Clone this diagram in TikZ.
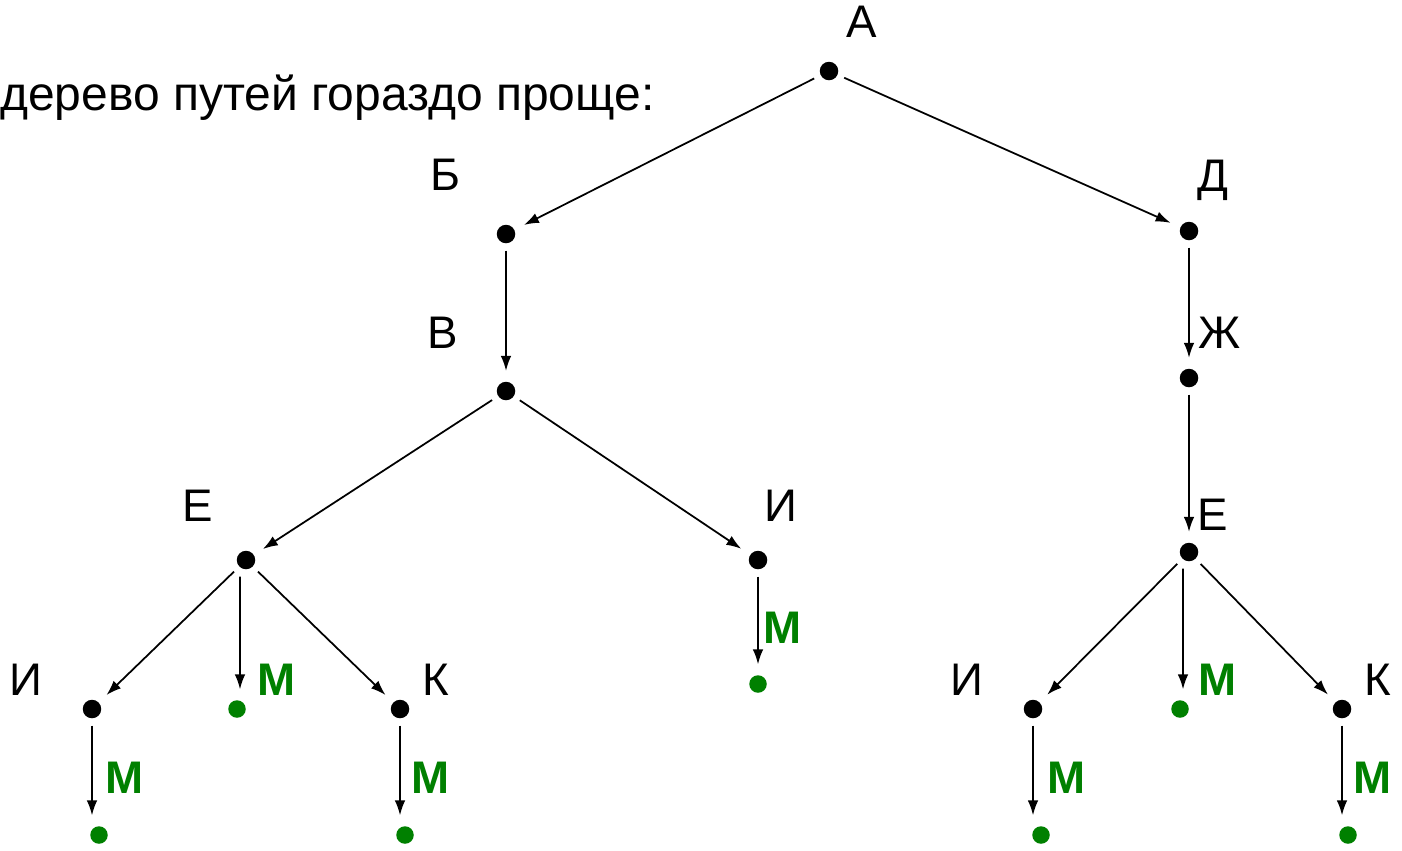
\documentclass[tikz,border=0pt]{standalone}
\usepackage{fontspec}
\setmainfont{Liberation Sans}
\usetikzlibrary{arrows.meta,positioning}
\usepackage{xcolor}
\definecolor{pathgreen}{RGB}{0,128,0}

\begin{document}
\begin{tikzpicture}[x=0.02cm,y=-0.02cm]
\tikzstyle{vertex} = [
	shape=circle,
	fill=black, %fill the space of the node
	minimum size=0.37cm, %minimum size of the nodes
	inner sep=0pt
];
\tikzstyle{goal} = [vertex, fill=pathgreen, minimum size=0.35cm];
\tikzstyle{letter} = [inner sep=0pt, font=\fontsize{26}{30}\selectfont];
\tikzstyle{goalletter} = [letter, text=pathgreen, font=\fontsize{26}{30}\selectfont\bfseries];
\tikzstyle{edge} = [-{Latex[length=8.5pt,width=6pt]}, line width=1pt, shorten <=4pt, shorten >=6pt];

\useasboundingbox (0,0) rectangle (1402,850);

\node[letter,anchor=base west,font=\fontsize{27.3}{32}\selectfont](TITLE) at (0,110) {дерево путей гораздо проще:};

% vertices
\node[vertex](A) at (829,71) {};
\node[vertex](B) at (506,234) {};
\node[vertex](D) at (1189,231) {};
\node[vertex](V) at (506,391) {};
\node[vertex](ZH) at (1189,378) {};
\node[vertex](EL) at (246,560) {};
\node[vertex](IM) at (758,560) {};
\node[vertex](ER) at (1189,552) {};
\node[vertex](IL) at (92,709) {};
\node[goal](ML) at (237,709) {};
\node[vertex](KL) at (400,709) {};
\node[goal](MM) at (758,684) {};
\node[vertex](IR) at (1033,709) {};
\node[goal](MR) at (1180,709) {};
\node[vertex](KR) at (1342,709) {};
\node[goal](MIL) at (99,835) {};
\node[goal](MKL) at (405,835) {};
\node[goal](MIR) at (1041,835) {};
\node[goal](MKR) at (1348,835) {};

% letters
\node[letter](lA) at (862,22) {А};
\node[letter](lB) at (445,175) {Б};
\node[letter](lD) at (1213,180) {Д};
\node[letter](lV) at (443,333) {В};
\node[letter](lZH) at (1220,333) {Ж};
\node[letter](lEL) at (198,506) {Е};
\node[letter](lIM) at (781,506) {И};
\node[letter](lER) at (1213,515) {Е};
\node[letter](lIL) at (26,680) {И};
\node[goalletter](lML) at (277,680) {М};
\node[letter](lKL) at (436,680) {К};
\node[goalletter](lMM) at (783,628) {М};
\node[letter](lIR) at (967,680) {И};
\node[goalletter](lMR) at (1218,680) {М};
\node[letter](lKR) at (1378,680) {К};
\node[goalletter](lMIL) at (125,778) {М};
\node[goalletter](lMKL) at (431,778) {М};
\node[goalletter](lMIR) at (1067,778) {М};
\node[goalletter](lMKR) at (1373,778) {М};

% edges
\draw[edge] (A) to (B);
\draw[edge] (A) to (D);
\draw[edge] (B) to (V);
\draw[edge] (D) to (ZH);
\draw[edge] (ZH) to (ER);
\draw[edge] (V) to (EL);
\draw[edge] (V) to (IM);
\draw[edge] (IM) to (MM);
\draw[edge] (EL) to (IL);
\draw[edge] ([xshift=-0.12cm]EL.south) to ([xshift=0.06cm]ML.north);
\draw[edge] (EL) to (KL);
\draw[edge] (ER) to (IR);
\draw[edge] ([xshift=-0.12cm]ER.south) to ([xshift=0.06cm]MR.north);
\draw[edge] (ER) to (KR);
\draw[edge] (IL) to (IL |- MIL.north);
\draw[edge] (KL) to (KL |- MKL.north);
\draw[edge] (IR) to (IR |- MIR.north);
\draw[edge] (KR) to (KR |- MKR.north);

\end{tikzpicture}
\end{document}
